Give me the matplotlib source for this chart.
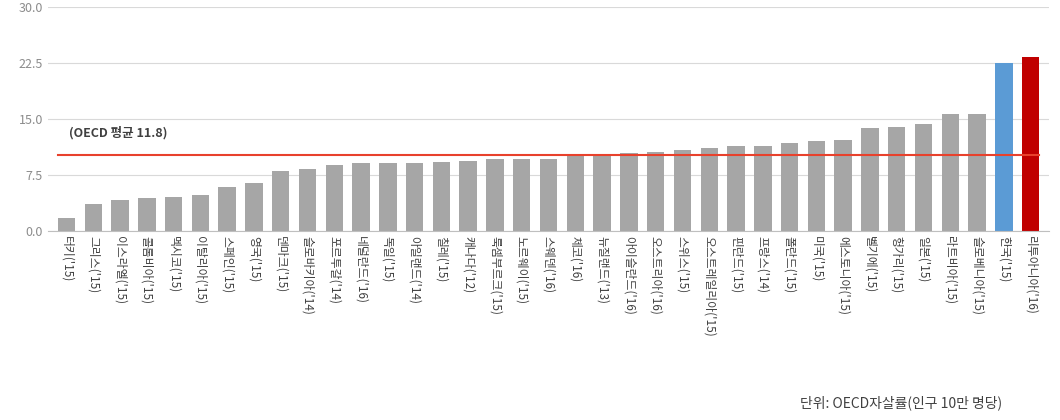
import matplotlib
matplotlib.use("Agg")
import matplotlib.pyplot as plt

plt.rcParams['font.family'] = ['Noto Sans CJK KR', 'DejaVu Sans']

countries = ["터키('15)","그리스('15)","이스라엘('15)","콜롬비아('15)","멕시코('15)","이탈리아('15)",
 "스페인('15)","영국('15)","덴마크('15)","슬로바키아('14)","포르투갈('14)","네덜란드('16)","독일('15)",
 "아일랜드('14)","칠레('15)","캐나다('12)","룩셈부르크('15)","노르웨이('15)","스웨덴('16)","체코('16)",
 "뉴질랜드('13)","아이슬란드('16)","오스트리아('16)","스위스('15)","오스트레일리아('15)","핀란드('15)",
 "프랑스('14)","폴란드('15)","미국('15)","에스토니아('15)","벨기에('15)","헝가리('15)","일본('15)",
 "라트비아('15)","슬로베니아('15)","한국('15)","리투아니아('16)"]
values = [1.7,3.6,4.1,4.4,4.55,4.8,5.9,6.4,8.0,8.3,8.8,9.1,9.1,9.1,9.2,9.4,9.6,9.6,9.6,10.3,
          10.3,10.4,10.6,10.8,11.1,11.4,11.4,11.8,12.0,12.2,13.8,13.9,14.3,15.7,15.7,22.5,23.3]
yticks = [0, 7.5, 15, 22.5, 30]
oecd_line = 10.2
oecd_label = "(OECD 평균 11.8)"

colors = ['#a6a6a6'] * len(values)
colors[-2] = '#5b9bd5'
colors[-1] = '#c00000'

fig = plt.figure(figsize=(10.6, 4.2), dpi=100)
ax = fig.add_axes([0.045, 0.45, 0.945, 0.533])
x = range(len(values))
ax.bar(x, values, width=0.65, color=colors, zorder=2)
ax.set_ylim(0, 30)
ax.set_xlim(-0.7, len(values) - 0.3)
ax.set_yticks(yticks)
ax.set_yticklabels([f"{t:.1f}" for t in yticks], fontsize=9, color='#8c8c8c')
ax.yaxis.grid(True, color='#d9d9d9', lw=0.8, zorder=0)
for s in ['left', 'right', 'top']:
    ax.spines[s].set_visible(False)
ax.spines['bottom'].set_color('#bfbfbf')
ax.tick_params(length=0)
ax.set_xticks(list(x))
ax.set_xticklabels(countries, rotation=-90, fontsize=8.5, color='#404040', va='top', ha='center')
ax.plot([-0.3, len(values) - 0.7], [oecd_line, oecd_line], color='#e8412c', lw=1.5, zorder=3)
ax.text(0.1, 12.7, oecd_label, fontsize=9, fontweight='bold', color='#404040')
fig.text(0.945, 0.03, "단위: OECD자살률(인구 10만 명당)", ha='right', fontsize=10, color='#404040')
fig.savefig("out.png", dpi=100)
